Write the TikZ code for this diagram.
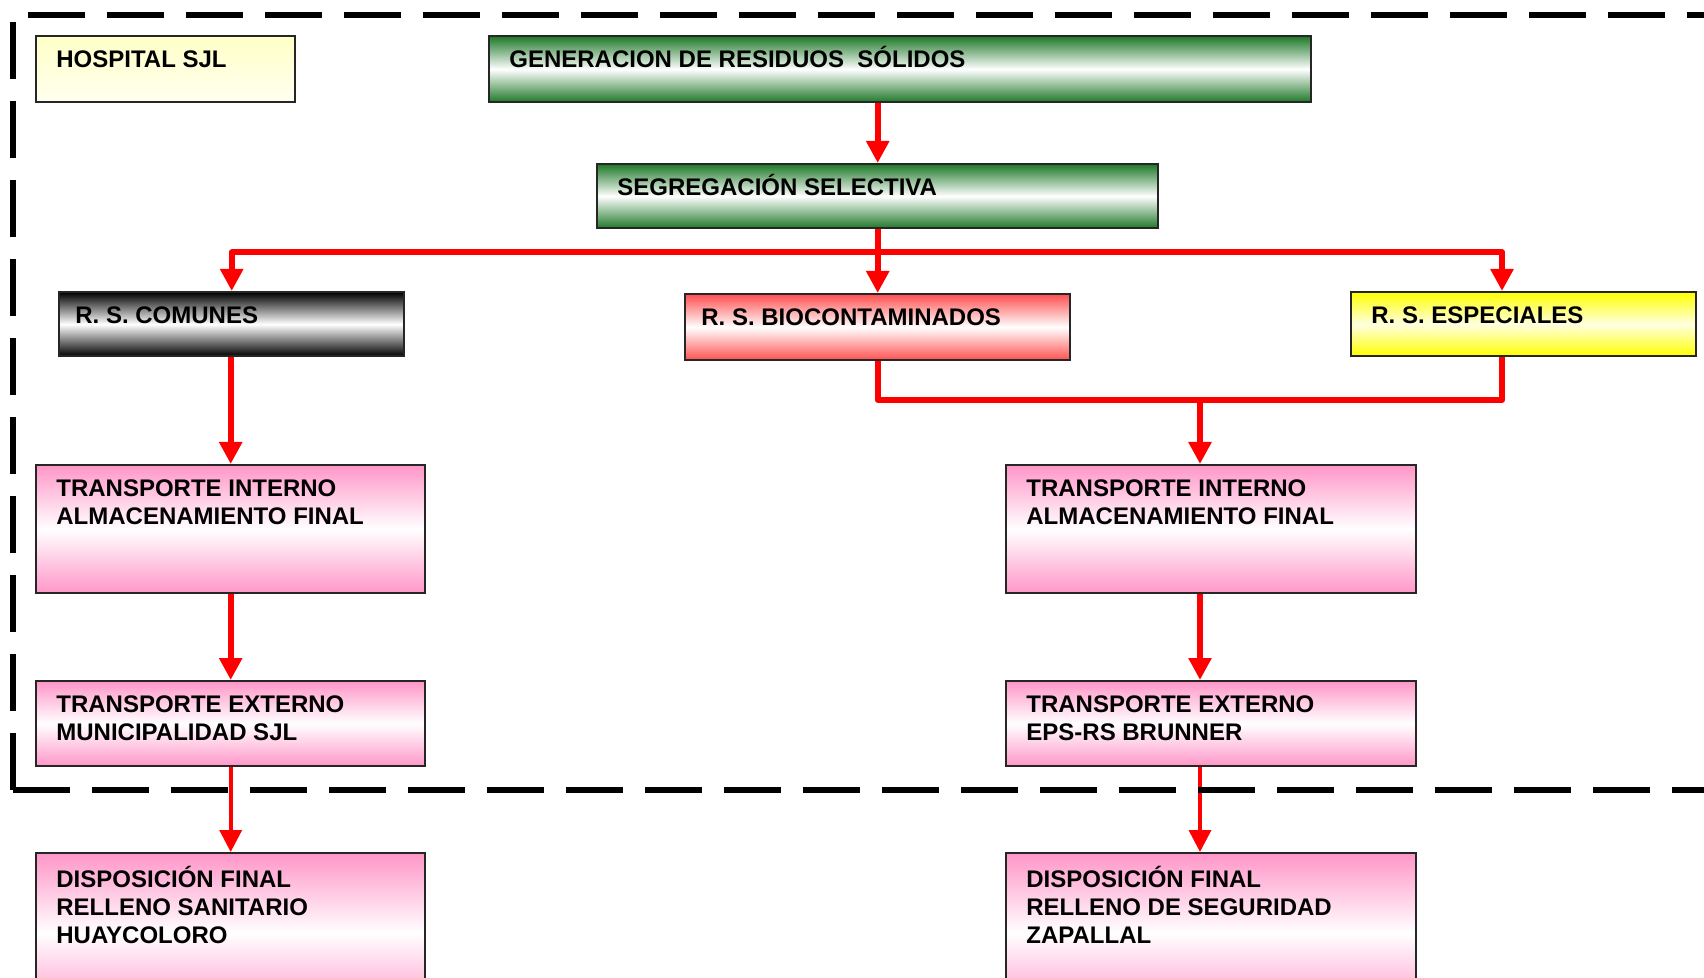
\documentclass[tikz,border=0pt]{standalone}
\usepackage{fontspec}
\setmainfont{Liberation Sans}
\usetikzlibrary{arrows.meta}
\newcommand{\tstrut}{\rule{0pt}{11.5pt}}
\definecolor{gr}{RGB}{30,120,40}
\definecolor{pk}{RGB}{255,150,200}
\definecolor{rd}{RGB}{255,80,80}
\begin{document}
\begin{tikzpicture}[x=0.5pt,y=-0.5pt,
  box/.style={draw=black!85, line width=1.2pt, anchor=north west, inner sep=0pt},
  greenbox/.style={box, top color=gr, bottom color=gr, middle color=white},
  greybox/.style={box, top color=black, bottom color=black, middle color=white},
  redbox/.style={box, top color=rd, bottom color=rd, middle color=white},
  yelbox/.style={box, top color=yellow, bottom color=yellow, middle color=yellow!12},
  pinkbox/.style={box, top color=pk, bottom color=pk, middle color=white},
  hospbox/.style={box, top color=yellow!22, bottom color=yellow!6},
  lbl/.style={anchor=north west, inner sep=0pt, align=left, text=black,
    font=\bfseries\fontsize{12pt}{14pt}\selectfont},
  redline/.style={red, line width=3pt, line join=round},
  arr/.style={redline, -{Triangle[width=11pt,length=11pt]}},
  thinarr/.style={red, line width=1.8pt, -{Triangle[width=11pt,length=11pt]}},
  frame/.style={black, line width=2.75pt, dash pattern=on 28.5pt off 11pt}
]
\useasboundingbox (0,0) rectangle (1704,978);
\clip (0,0) rectangle (1704,978);
\fill[white] (0,0) rectangle (1704,978);

% boxes
\node[hospbox, minimum width=129.5pt, minimum height=33pt] (hosp) at (35,35) {};
\node[greenbox, minimum width=411pt, minimum height=33pt] (gen) at (488,35) {};
\node[greenbox, minimum width=280.5pt, minimum height=32pt] (seg) at (596,163) {};
\node[greybox, minimum width=172.5pt, minimum height=32pt] (com) at (58,291) {};
\node[redbox, minimum width=192.5pt, minimum height=33pt] (bio) at (684,293) {};
\node[yelbox, minimum width=172.5pt, minimum height=32pt] (esp) at (1350,291) {};
\node[pinkbox, minimum width=194.5pt, minimum height=64pt] (til) at (35,464) {};
\node[pinkbox, minimum width=205pt, minimum height=64pt] (tir) at (1005,464) {};
\node[pinkbox, minimum width=194.5pt, minimum height=42.5pt] (tel) at (35,680) {};
\node[pinkbox, minimum width=205pt, minimum height=42.5pt] (ter) at (1005,680) {};
\node[pinkbox, minimum width=194.5pt, minimum height=80pt] (dl) at (35,852) {};
\node[pinkbox, minimum width=205pt, minimum height=80pt] (dr) at (1005,852) {};

% labels
\node[lbl] (hosp-t) at ([xshift=10.5pt,yshift=-4.6pt]hosp.north west) {\tstrut HOSPITAL SJL};
\node[lbl] (gen-t) at ([xshift=10.5pt,yshift=-4.6pt]gen.north west) {\tstrut GENERACION DE RESIDUOS\ \ SÓLIDOS};
\node[lbl] (seg-t) at ([xshift=10.5pt,yshift=-4.6pt]seg.north west) {\tstrut SEGREGACIÓN SELECTIVA};
\node[lbl] (com-t) at ([xshift=8.5pt,yshift=-4.6pt]com.north west) {\tstrut R. S. COMUNES};
\node[lbl] (bio-t) at ([xshift=8.5pt,yshift=-4.6pt]bio.north west) {\tstrut R. S. BIOCONTAMINADOS};
\node[lbl] (esp-t) at ([xshift=10.5pt,yshift=-4.6pt]esp.north west) {\tstrut R. S. ESPECIALES};
\node[lbl] (til-t) at ([xshift=10.5pt,yshift=-4.6pt]til.north west) {\tstrut TRANSPORTE INTERNO\\ALMACENAMIENTO FINAL};
\node[lbl] (tir-t) at ([xshift=10.5pt,yshift=-4.6pt]tir.north west) {\tstrut TRANSPORTE INTERNO\\ALMACENAMIENTO FINAL};
\node[lbl] (tel-t) at ([xshift=10.5pt,yshift=-4.6pt]tel.north west) {\tstrut TRANSPORTE EXTERNO\\MUNICIPALIDAD SJL};
\node[lbl] (ter-t) at ([xshift=10.5pt,yshift=-4.6pt]ter.north west) {\tstrut TRANSPORTE EXTERNO\\EPS-RS BRUNNER};
\node[lbl] (dl-t) at ([xshift=10.5pt,yshift=-6pt]dl.north west) {\tstrut DISPOSICIÓN FINAL\\RELLENO SANITARIO\\HUAYCOLORO};
\node[lbl] (dr-t) at ([xshift=10.5pt,yshift=-6pt]dr.north west) {\tstrut DISPOSICIÓN FINAL\\RELLENO DE SEGURIDAD\\ZAPALLAL};

% connector coordinates
\path (seg.south) ++(0,23) coordinate (bus);
\coordinate (ex) at (1502,0);
\coordinate (rx) at (1200,0);
\coordinate (j) at (1200,400);

% connectors
\draw[arr] (seg.north |- gen.south) -- (seg.north);
\draw[redline] (seg.south) -- (bus);
\draw[arr] (bus) -| (com.north);
\draw[arr] (bus) -- (bus -| bio.north) -- (bio.north);
\draw[arr] (bus) -| (esp.north -| ex);
\draw[redline] (bio.south) |- (j) -| (esp.south -| ex);
\draw[arr] (j) -- (tir.north -| rx);
\draw[arr] (til.north |- com.south) -- (til.north);
\draw[arr] (til.south) -- (tel.north);
\draw[arr] (tir.south -| rx) -- (ter.north -| rx);
\draw[thinarr] (tel.south) -- (dl.north);
\draw[thinarr] (ter.south -| rx) -- (dr.north -| rx);

% dashed frame
\draw[frame] (13,790) -- (13,15) -- (1800,15);
\draw[frame] (13,790) -- (1800,790);
\end{tikzpicture}
\end{document}
